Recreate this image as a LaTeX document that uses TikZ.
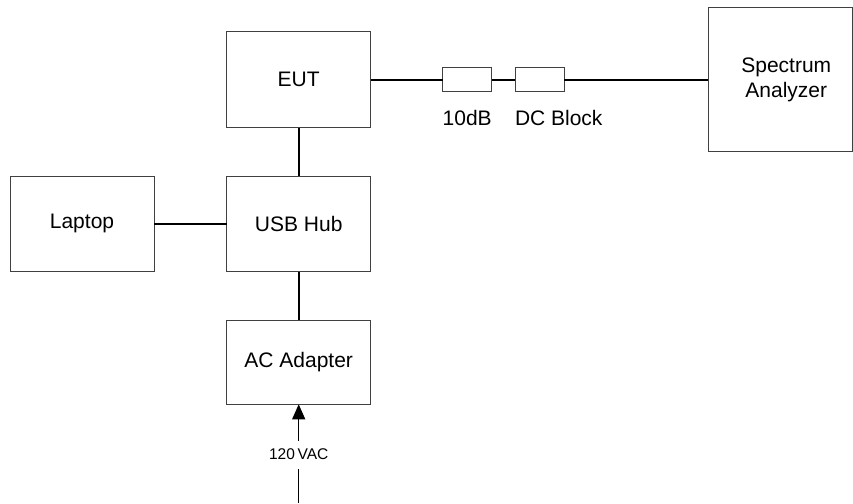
\documentclass[tikz,border=0pt]{standalone}
\usepackage{fontspec}
\setmainfont{Liberation Sans}
\usetikzlibrary{positioning}
\usetikzlibrary{arrows.meta}

\begin{document}
\begin{tikzpicture}[x=1pt,y=-1pt,every node/.style={outer sep=0pt},
        font=\fontsize{21}{25}\selectfont,
        unit/.style={draw=black!75,line width=0.8pt,minimum width=144pt,align=center},
        pad/.style={draw=black!75,line width=0.8pt,minimum width=49pt,minimum height=24pt},
        cable/.style={line width=1.6pt},
        padlabel/.style={inner sep=0pt,anchor=north west}]
        \useasboundingbox (0,0) rectangle (853,503);

        % EUT
        \node[unit,minimum height=96pt] (eut) at (298.7,79.7) {EUT};
        % USB Hub and Laptop
        \node[unit,minimum height=95.7pt,below=48.3pt of eut] (hub) {USB Hub};
        \node[unit,minimum height=95.7pt,left=72.7pt of hub] (laptop) {Laptop};
        % AC Adapter
        \node[unit,minimum height=84.3pt,below=48.3pt of hub] (adapter) {AC Adapter};
        % Attenuator and DC block
        \node[pad,right=72pt of eut] (att) {};
        \node[pad,right=23.3pt of att] (dcb) {};
        \node[padlabel,below=19pt of att.south west,anchor=north west] (attl) {10dB};
        \node[padlabel,below=19pt of dcb.south west,anchor=north west] (dcbl) {DC Block};
        % Spectrum Analyzer
        \node[unit,minimum height=144pt,right=144.3pt of dcb,text width=120pt,xshift=0pt] (sa) {\hspace*{12pt}Spectrum\\ \hspace*{12pt}Analyzer};

        \draw[cable] (eut) -- (att) (att) -- (dcb) (dcb) -- (sa);
        \draw[cable] (eut) -- (hub);
        \draw[cable] (laptop) -- (hub);
        \draw[cable] (hub) -- (adapter);

        % mains input
        \coordinate (mains) at (298.7,503);
        \draw[line width=1.1pt,-{Triangle[length=15pt,width=13pt]}] (mains) -- (adapter.south)
          node[pos=0.49,fill=white,inner xsep=1pt,inner ysep=8.5pt,font=\fontsize{15.5}{18}\selectfont]{120\,VAC};

    \end{tikzpicture}
\end{document}
